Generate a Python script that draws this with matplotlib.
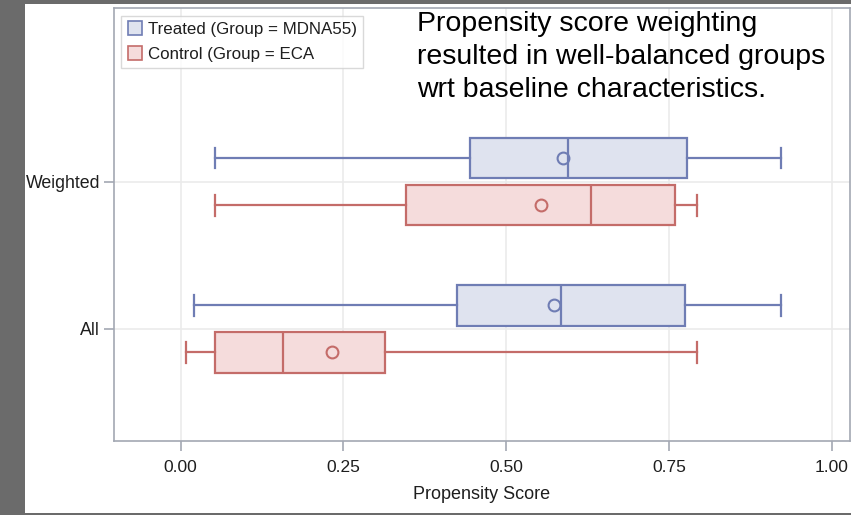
import matplotlib
matplotlib.use("Agg")
import matplotlib.pyplot as plt
from matplotlib.patches import Rectangle
from matplotlib.lines import Line2D

plt.rcParams['font.family'] = ['Liberation Sans', 'DejaVu Sans']

# ---- data ----
categories = ["All", "Weighted"]
groups = ["Treated (Group = MDNA55)", "Control (Group = ECA"]

treated_whislo = [0.021, 0.052]
treated_q1     = [0.424, 0.444]
treated_med    = [0.584, 0.595]
treated_mean   = [0.574, 0.588]
treated_q3     = [0.775, 0.778]
treated_whishi = [0.922, 0.923]

control_whislo = [0.008, 0.052]
control_q1     = [0.052, 0.346]
control_med    = [0.157, 0.630]
control_mean   = [0.233, 0.554]
control_q3     = [0.314, 0.760]
control_whishi = [0.794, 0.794]

xticks = [0.00, 0.25, 0.50, 0.75, 1.00]
xtick_labels = ["0.00", "0.25", "0.50", "0.75", "1.00"]

note = "Propensity score weighting\nresulted in well-balanced groups\nwrt baseline characteristics."

# ---- style ----
blue_edge = "#6f7db4"
blue_fill = "#dfe3ef"
red_edge = "#c46c69"
red_fill = "#f5dcdc"
spine_col = "#a3a8b3"
grid_col = "#ebebeb"
text_col = "#1e1e1e"

W, H = 851, 515
fig = plt.figure(figsize=(W / 100, H / 100), dpi=100)
fig.patch.set_facecolor("#6b6b6b")
fig.patches.append(Rectangle((25 / W, 2.5 / H), 1 - 25 / W, (512.5 - 4) / H,
                             transform=fig.transFigure, facecolor="white",
                             edgecolor="none", zorder=-1))

ax = fig.add_axes([113.5 / W, 1 - 440.7 / H, (850 - 113.5) / W, (440.7 - 8) / H])
ax.set_facecolor("white")


def make_stats(lo, q1, med, mean, q3, hi):
    return [dict(whislo=lo[i], q1=q1[i], med=med[i], mean=mean[i], q3=q3[i],
                 whishi=hi[i], fliers=[]) for i in range(len(lo))]


cat_pos = list(range(len(categories)))
offset = 0.16
bw = 0.275

for stats, pos, ec, fc in [
    (make_stats(treated_whislo, treated_q1, treated_med, treated_mean, treated_q3, treated_whishi),
     [c + offset for c in cat_pos], blue_edge, blue_fill),
    (make_stats(control_whislo, control_q1, control_med, control_mean, control_q3, control_whishi),
     [c - offset for c in cat_pos], red_edge, red_fill),
]:
    ax.bxp(stats, positions=pos, widths=bw, orientation="horizontal",
           patch_artist=True, showmeans=True, showfliers=False,
           capwidths=0.14,
           boxprops=dict(facecolor=fc, edgecolor=ec, linewidth=1.6),
           medianprops=dict(color=ec, linewidth=1.6),
           whiskerprops=dict(color=ec, linewidth=1.6),
           capprops=dict(color=ec, linewidth=1.6),
           meanprops=dict(marker="o", markerfacecolor="none", markeredgecolor=ec,
                          markersize=8.5, markeredgewidth=1.5),
           zorder=3)

ax.set_xlim(-0.1033, 1.0284)
ax.set_ylim(-0.76, 2.18)
ax.set_xticks(xticks)
ax.set_xticklabels(xtick_labels)
ax.set_yticks(cat_pos)
ax.set_yticklabels(categories)
ax.grid(True, color=grid_col, linewidth=1.2, zorder=0)
ax.set_axisbelow(True)
for s in ax.spines.values():
    s.set_color(spine_col)
    s.set_linewidth(1.2)
ax.tick_params(axis="both", colors=spine_col, length=7, width=1.2, labelsize=12.8,
               labelcolor=text_col)
ax.tick_params(axis="y", pad=2.5)
ax.tick_params(axis="x", pad=7, labelsize=12.5)
ax.set_xlabel("Propensity Score", fontsize=13, color=text_col, labelpad=8)

handles = [Line2D([], [], linestyle="none", marker="s", markersize=10,
                  markerfacecolor=blue_fill, markeredgecolor=blue_edge, markeredgewidth=1.2),
           Line2D([], [], linestyle="none", marker="s", markersize=10,
                  markerfacecolor=red_fill, markeredgecolor=red_edge, markeredgewidth=1.2)]
leg = ax.legend(handles, groups, loc="upper left", bbox_to_anchor=(121 / W, 1 - 16 / H),
                bbox_transform=fig.transFigure, fontsize=12.2, frameon=True,
                fancybox=False, edgecolor="#d0d0d0", borderpad=0.35,
                handletextpad=0.35, handlelength=0.9, labelspacing=0.6,
                borderaxespad=0)
leg.get_frame().set_linewidth(1.0)
for t in leg.get_texts():
    t.set_color(text_col)

fig.text(417 / W, 1 - 11 / H, note, fontsize=20.5, color="black", va="top", ha="left",
         linespacing=1.34)

fig.savefig("out.png", dpi=100, facecolor=fig.get_facecolor())
